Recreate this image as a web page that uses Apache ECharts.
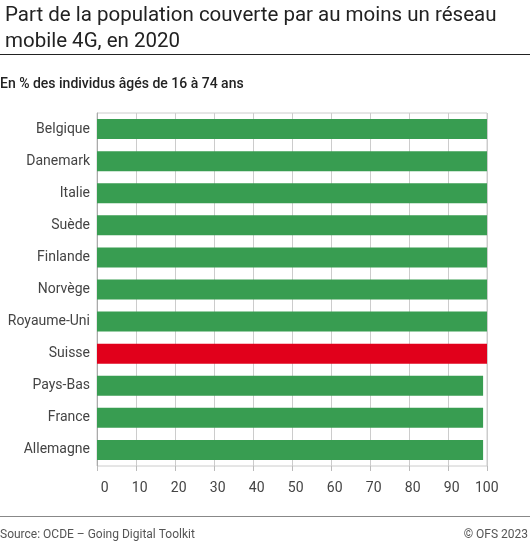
<!DOCTYPE html>
<html>
<head>
<meta charset="utf-8">
<script src="https://cdn.jsdelivr.net/npm/echarts@6/dist/echarts.min.js"></script>
<style>
  html, body { margin: 0; padding: 0; background: #fff; }
  #chart { width: 530px; height: 542px; }
</style>
</head>
<body>
<div id="chart"></div>
<script>
// pays, du haut vers le bas
const countries = ['Belgique', 'Danemark', 'Italie', 'Suède', 'Finlande', 'Norvège',
    'Royaume-Uni', 'Suisse', 'Pays-Bas', 'France', 'Allemagne']
const coverage = [100, 100, 100, 100, 100, 100, 100, 100, 99, 99, 99]
const highlight = 'Suisse'
const xTicks = [0, 10, 20, 30, 40, 50, 60, 70, 80, 90, 100]

const GREEN = '#389d51'
const RED = '#e1001b'
const FONT = 'Roboto, "Noto Sans", sans-serif'

const chart = echarts.init(document.getElementById('chart'))

const option = {
    animation: false,
    textStyle: { fontFamily: FONT },
    title: {
        text: 'Part de la population couverte par au moins un réseau\nmobile 4G, en 2020',
        left: 0,
        top: -2,
        textStyle: { fontFamily: FONT, fontSize: 20.5, fontWeight: 'normal', color: '#222', lineHeight: 26 }
    },
    graphic: [
        { type: 'line', shape: { x1: 0, y1: 54.5, x2: 530, y2: 54.5 }, style: { stroke: '#222', lineWidth: 1 } },
        { type: 'text', left: 0, top: 77, style: { text: 'En % des individus âgés de 16 à 74 ans', font: '500 14px ' + FONT, fill: '#222' } },
        { type: 'line', shape: { x1: 0, y1: 516.5, x2: 530, y2: 516.5 }, style: { stroke: '#888', lineWidth: 1 } },
        { type: 'text', left: 0, top: 529, style: { text: 'Source: OCDE – Going Digital Toolkit', font: '12px ' + FONT, fill: '#555' } },
        { type: 'text', right: 2, top: 529, style: { text: '© OFS 2023', font: '12px ' + FONT, fill: '#555' } }
    ],
    grid: {
        left: 97,
        right: 43,
        top: 113,
        bottom: 76,
        show: true,
        borderColor: '#ccc',
        borderWidth: 1
    },
    xAxis: {
        type: 'value',
        min: 0,
        max: 100,
        interval: 10,
        axisLine: { show: false },
        axisTick: { show: true, length: 5, lineStyle: { color: '#bbb' } },
        splitLine: { show: true, lineStyle: { color: '#ccc' } },
        axisLabel: {
            margin: 15, fontSize: 14, color: '#444', fontFamily: FONT,
            formatter: v => xTicks.includes(v) ? '{n|' + v + '}' : '',
            rich: { n: { width: 23, align: 'right', fontSize: 14, color: '#444', fontFamily: FONT } }
        }
    },
    yAxis: {
        type: 'category',
        data: countries,
        inverse: true,
        axisLine: { show: true, lineStyle: { color: '#aaa' } },
        axisTick: { show: false },
        axisLabel: { margin: 7, fontSize: 14, color: '#444', fontFamily: FONT }
    },
    series: [{
        type: 'bar',
        barWidth: 20,
        data: coverage.map((v, i) => ({
            value: v,
            itemStyle: { color: countries[i] === highlight ? RED : GREEN }
        }))
    }]
}

chart.setOption(option)
</script>
</body>
</html>
